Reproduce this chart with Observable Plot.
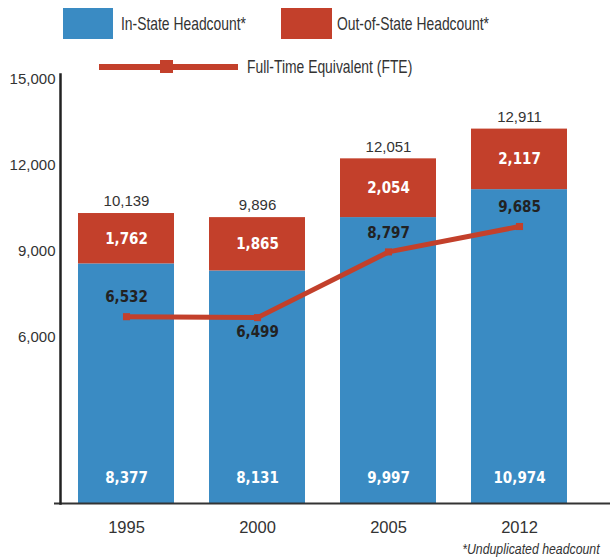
<!DOCTYPE html>
<html><head><meta charset="utf-8">
<script src="https://cdn.jsdelivr.net/npm/d3@7"></script>
<script src="https://cdn.jsdelivr.net/npm/@observablehq/plot@0.6"></script>
<style>
body{margin:0;background:#fff;width:610px;height:557px;overflow:hidden;font-family:"Liberation Sans",sans-serif;}
#wrap{position:relative;width:610px;height:557px;}
.lg{position:absolute;font-family:"Liberation Sans",sans-serif;font-size:18.5px;color:#333;line-height:1;white-space:nowrap;transform:scaleX(0.75);transform-origin:left center;}
.sw{position:absolute;}
#chart{position:absolute;left:0;top:64px;}
#foot{position:absolute;right:10px;top:541px;font-family:"Liberation Sans",sans-serif;font-style:italic;font-size:15px;line-height:1;color:#333;white-space:nowrap;transform:scaleX(0.82);transform-origin:right center;}
</style></head>
<body><div id="wrap">
<div id="chart"></div>
<div class="sw" style="left:63px;top:8px;width:50px;height:31px;background:#3a8bc3"></div>
<div class="lg" style="left:121px;top:15px">In-State Headcount*</div>
<div class="sw" style="left:281px;top:8px;width:51px;height:31px;background:#c3402b"></div>
<div class="lg" style="left:337px;top:15px">Out-of-State Headcount*</div>
<div class="sw" style="left:99px;top:64px;width:139px;height:6px;background:#c3402b"></div>
<div class="sw" style="left:160px;top:60px;width:13px;height:13px;background:#c3402b"></div>
<div class="lg" style="left:247px;top:58px">Full-Time Equivalent (FTE)</div>
<div id="foot">*Unduplicated headcount</div>
</div>
<script>
const years = ["1995", "2000", "2005", "2012"];
const inState = [8377, 8131, 9997, 10974];
const outState = [1762, 1865, 2054, 2117];
const totals = [10139, 9896, 12051, 12911];
const fte = [6532, 6499, 8797, 9685];
const yTicks = [6000, 9000, 12000, 15000];

const rows = years.map((year, i) => ({
  year, i,
  inState: inState[i],
  outState: outState[i],
  top: inState[i] + outState[i],
  total: totals[i],
  fte: fte[i]
}));
const fmt = d3.format(",");
const blue = "#3a8bc3", red = "#c3402b";
const boldFont = '"DejaVu Sans Condensed", "DejaVu Sans", sans-serif';
const boldStyle = {fontWeight: "bold", fontSize: 15, fontFamily: boldFont};

const chart = Plot.plot({
  width: 610, height: 493,
  marginTop: 10, marginBottom: 54, marginLeft: 60, marginRight: 26,
  style: {fontFamily: '"Liberation Sans", sans-serif', color: "#333", background: "#fff", overflow: "visible"},
  x: {domain: years, padding: 0.27, paddingOuter: 0.13, label: null},
  y: {domain: [0, 15000], label: null},
  marks: [
    Plot.barY(rows, {x: "year", y1: 0, y2: "inState", fill: blue}),
    Plot.barY(rows, {x: "year", y1: "inState", y2: "top", fill: red}),
    Plot.ruleY([0], {stroke: "#333", strokeWidth: 2, insetLeft: -6, insetRight: -26}),
    Plot.frame({anchor: "left", stroke: "#222", strokeWidth: 2.5}),
    Plot.axisY({ticks: yTicks, tickSize: 0, tickPadding: 5, tickFormat: fmt, fontSize: 15, dy: 5, label: null}),
    Plot.axisX({tickSize: 0, tickPadding: 18, fontSize: 16.5, label: null}),
    Plot.line(rows, {x: "year", y: "fte", stroke: red, strokeWidth: 5}),
    Plot.dot(rows, {x: "year", y: "fte", symbol: "square", r: 4, fill: red}),
    Plot.text(rows, {x: "year", y: "top", text: d => fmt(d.total), dy: -12, fontSize: 15, fill: "#333"}),
    Plot.text(rows, {x: "year", y: d => (d.inState + d.top) / 2, text: d => fmt(d.outState), fill: "#fff", ...boldStyle}),
    Plot.text(rows, {x: "year", y: 0, dy: -25, text: d => fmt(d.inState), fill: "#fff", ...boldStyle}),
    Plot.text(rows.filter(d => d.i !== 1), {x: "year", y: "fte", dy: -19, text: d => fmt(d.fte), fill: "#222", ...boldStyle}),
    Plot.text(rows.filter(d => d.i === 1), {x: "year", y: "fte", dy: 15, text: d => fmt(d.fte), fill: "#222", ...boldStyle})
  ]
});
document.getElementById("chart").appendChild(chart);
</script>
</body></html>
